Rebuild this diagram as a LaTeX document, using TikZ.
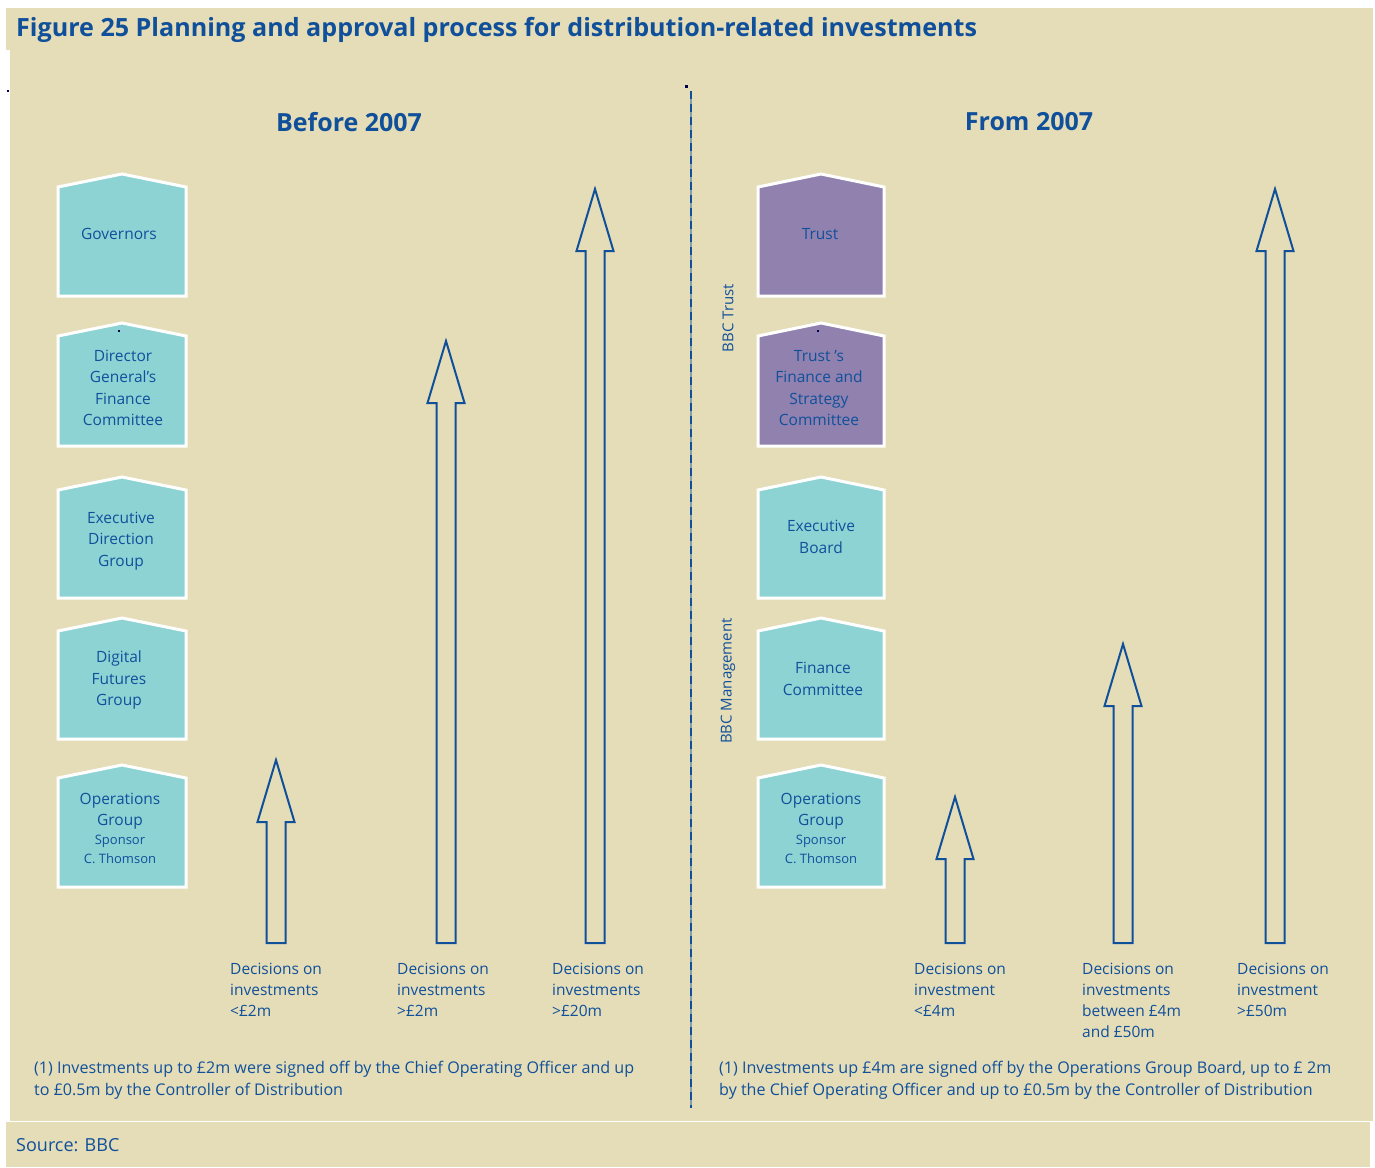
\documentclass[tikz,border=0pt]{standalone}
\usepackage{fontspec}
\setmainfont{Open Sans}
\newfontfamily\ttlfont{Open Sans}
\definecolor{beige}{RGB}{229,221,184}
\definecolor{tealbox}{RGB}{141,211,212}
\definecolor{purplebox}{RGB}{145,129,175}
\definecolor{bluetxt}{RGB}{16,80,155}
\newcommand\housebox[5]{% x1 x2 top bottom colour
  \pgfmathsetmacro\hcx{(#1+#2)/2}
  \path[fill=#5,draw=white,line width=3pt,line join=miter]
    (#1,#3+13) -- (\hcx,#3) -- (#2,#3+13) -- (#2,#4) -- (#1,#4) -- cycle;}
\newcommand\blockarrow[2]{% centre x, tip y
  \draw[arrowline] (#1,#2) -- (#1+18.5,#2+62) -- (#1+9.5,#2+62) -- (#1+9.5,943)
    -- (#1-9.5,943) -- (#1-9.5,#2+62) -- (#1-18.5,#2+62) -- cycle;}
\tikzset{
  boxtext/.style={text=bluetxt,align=center,inner sep=0pt,font=\fontsize{15.5}{21.5}\selectfont},
  smalltext/.style={text=bluetxt,align=center,inner sep=0pt,font=\fontsize{13}{19}\selectfont},
  label/.style={text=bluetxt,align=left,inner sep=0pt,anchor=north west,font=\fontsize{15.5}{21}\selectfont},
  footnote/.style={text=bluetxt,align=left,inner sep=0pt,anchor=north west,font=\fontsize{16.1}{21.5}\selectfont},
  heading/.style={text=bluetxt,inner sep=0pt,font=\ttlfont\bfseries\fontsize{25}{30}\selectfont},
  arrowline/.style={draw=bluetxt,line width=2pt,line join=miter},
  sidelabel/.style={text=bluetxt,inner sep=0pt,rotate=90,font=\fontsize{15}{17}\selectfont},
  speck/.style={fill=black!70!blue,draw=none}
}
\begin{document}
\begin{tikzpicture}[x=1pt,y=-1pt]
\useasboundingbox (0,0) rectangle (1375,1167);
\fill[white] (0,0) rectangle (1375,1167);
% panels
\fill[beige] (6,8) rectangle (1373,50);
\fill[beige] (10,50) rectangle (1373,1121);
\fill[beige] (6,1122) rectangle (1370,1167);
% title
\node[anchor=base west,inner sep=0pt,text=bluetxt,font=\ttlfont\bfseries\fontsize{25.1}{28}\selectfont] (title) at (16,36)
  {Figure 25 Planning and approval process for distribution-related investments};
% divider
\draw[line width=2pt,draw=bluetxt!45!beige] (691,91) -- (691,1108);
\draw[line width=2pt,draw=bluetxt,dash pattern=on 8pt off 5pt] (691,91) -- (691,1108);
\fill[speck] (685,85) rectangle (687.5,87.5);
\fill[speck] (7,90) rectangle (9,92);
% headings
\node[heading] (before) at (349,122) {Before 2007};
\node[heading] (from) at (1029,122) {From 2007};
% left boxes
\housebox{58}{186}{174}{296}{tealbox}
\housebox{58}{186}{323}{446}{tealbox}
\housebox{58}{186}{477}{598}{tealbox}
\housebox{58}{186}{618}{739}{tealbox}
\housebox{58}{186}{765}{887}{tealbox}
\fill[speck] (118,330) rectangle (120,332);
\node[boxtext] (gov) at (119,234) {Governors};
\node[boxtext] (dgfc) at (123,388) {Director\\General’s\\Finance\\Committee};
\node[boxtext] (edg) at (121,541) {Executive\\Direction\\Group};
\node[boxtext] (dfg) at (119,680) {Digital\\Futures\\Group};
\node[boxtext] (opsL) at (120,811) {Operations\\Group};
\node[smalltext] (opsLs) at (120,849) {Sponsor\\C. Thomson};
% right boxes
\housebox{758}{884}{174}{296}{purplebox}
\housebox{758}{884}{323}{446}{purplebox}
\housebox{758}{884}{477}{598}{tealbox}
\housebox{758}{884}{618}{739}{tealbox}
\housebox{758}{884}{765}{887}{tealbox}
\fill[speck] (817,330) rectangle (819,332);
\node[boxtext] (trust) at (820,234) {Trust};
\node[boxtext] (tfsc) at (819,388) {Trust ’s\\Finance and\\Strategy\\Committee};
\node[boxtext] (eb) at (821,537) {Executive\\Board};
\node[boxtext] (fc) at (823,679) {Finance\\Committee};
\node[boxtext] (opsR) at (821,811) {Operations\\Group};
\node[smalltext] (opsRs) at (821,849) {Sponsor\\C. Thomson};
% side labels
\node[sidelabel] (bbctrust) at (728,318) {BBC Trust};
\node[sidelabel] (bbcmgmt) at (728,681) {BBC Management};
% arrows
\blockarrow{276}{760}
\blockarrow{446}{341}
\blockarrow{595}{189}
\blockarrow{955}{797}
\blockarrow{1123}{644}
\blockarrow{1275}{189}
% arrow labels
\node[label] (l1) at (230,963) {Decisions on\\investments\\<£2m};
\node[label] (l2) at (397,963) {Decisions on\\investments\\>£2m};
\node[label] (l3) at (552,963) {Decisions on\\investments\\>£20m};
\node[label] (r1) at (914,963) {Decisions on\\investment\\<£4m};
\node[label] (r2) at (1082,963) {Decisions on\\investments\\between £4m\\and £50m};
\node[label] (r3) at (1237,963) {Decisions on\\investment\\>£50m};
% footnotes
\node[footnote] (fnL) at (34,1061) {(1) Investments up to £2m were signed off by the Chief Operating Officer and up\\to £0.5m by the Controller of Distribution};
\node[footnote] (fnR) at (719,1061) {(1) Investments up £4m are signed off by the Operations Group Board, up to £ 2m\\by the Chief Operating Officer and up to £0.5m by the Controller of Distribution};
\node[anchor=west,inner sep=0pt,text=bluetxt,font=\fontsize{18}{20}\selectfont] (source) at (16,1145) {Source: BBC};
\end{tikzpicture}
\end{document}
